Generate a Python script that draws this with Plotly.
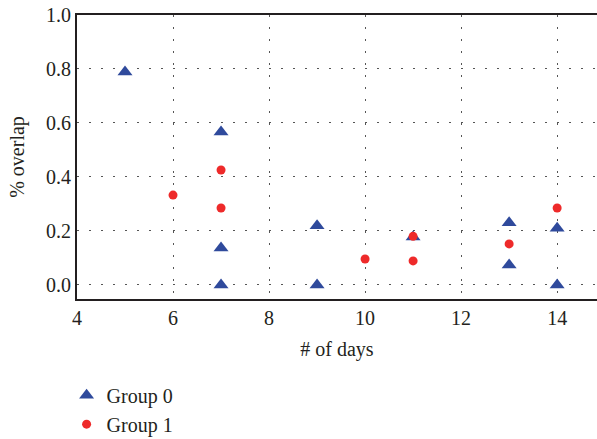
import plotly.graph_objects as go

g0_days = [5, 7, 7, 7, 9, 9, 11, 13, 13, 14, 14]
g0_overlap = [0.789, 0.567, 0.137, 0.0, 0.219, 0.0, 0.178, 0.23, 0.074, 0.21, 0.0]
g1_days = [6, 7, 7, 10, 11, 11, 13, 14]
g1_overlap = [0.333, 0.426, 0.285, 0.096, 0.18, 0.089, 0.152, 0.285]

x_ticks = [4, 6, 8, 10, 12, 14]
y_ticks = [0.0, 0.2, 0.4, 0.6, 0.8, 1.0]

SERIF = "Liberation Serif"
FS = 20
font = dict(family=SERIF, size=FS, color="#231f20")

fig = go.Figure()
fig.add_trace(go.Scatter(x=g0_days, y=g0_overlap, mode="markers", name="Group 0",
                         marker=dict(symbol="triangle-up", size=13, color="#2f4a9c")))
fig.add_trace(go.Scatter(x=g1_days, y=g1_overlap, mode="markers", name="Group 1",
                         marker=dict(symbol="circle", size=9, color="#ee2a2a")))

fig.update_layout(
    width=597, height=439,
    margin=dict(l=77, r=0, t=15, b=140, autoexpand=False),
    paper_bgcolor="white", plot_bgcolor="white",
    font=font,
    showlegend=True,
    legend=dict(x=-0.02, y=-0.27, xanchor="left", yanchor="top",
                font=dict(family=SERIF, size=FS, color="#231f20"),
                itemwidth=30, tracegroupgap=0, bgcolor="rgba(0,0,0,0)"),
    xaxis=dict(range=[4, 14.83], tickvals=x_ticks, ticktext=[str(v) for v in x_ticks],
               showgrid=True, gridcolor="#555", griddash="2px,10px", gridwidth=1,
               showline=True, linecolor="#231f20", linewidth=2, mirror=True,
               ticks="", zeroline=False, automargin=False, ticklabeloverflow="allow",
               tickfont=dict(family=SERIF, size=FS),
               title=dict(text="# of days", standoff=14, font=dict(family=SERIF, size=FS))),
    yaxis=dict(range=[-0.052, 1.0], tickvals=y_ticks, ticktext=[f"{v:.1f}" for v in y_ticks],
               showgrid=True, gridcolor="#555", griddash="2px,10px", gridwidth=1,
               showline=True, linecolor="#231f20", linewidth=2,
               ticks="", zeroline=False, automargin=False, ticklabeloverflow="allow",
               tickfont=dict(family=SERIF, size=FS),
               title=dict(text="% overlap", standoff=16, font=dict(family=SERIF, size=FS))),
)

fig.write_html("out.html", config={"displayModeBar": False},
               post_script="document.body.style.margin='0';")
